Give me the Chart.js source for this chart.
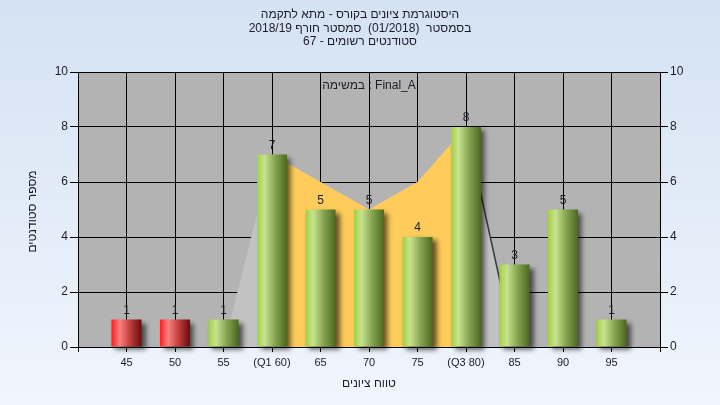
<!DOCTYPE html>
<html>
<head>
<meta charset="utf-8">
<script src="https://cdn.jsdelivr.net/npm/chart.js@4/dist/chart.umd.min.js"></script>
<style>
html,body{margin:0;padding:0;background:#e4eef9;}
canvas{display:block;}
</style>
</head>
<body>
<canvas id="c" width="720" height="405"></canvas>
<script>
// ---- data ----
const categories = ['45','50','55','(Q1 60)','65','70','75','(Q3 80)','85','90','95'];
const counts = [1,1,1,7,5,5,4,8,3,5,1];
const barGroups = ['fail','fail','pass','pass','pass','pass','pass','pass','pass','pass','pass'];
const curveValues = [null,null,0,7,6,5,6,8,0,null,null];
const q1Index = 3;
const q3Index = 7;
const yTicks = [0,2,4,6,8,10];
const titleLines = ['היסטוגרמת ציונים בקורס - מתא לתקמה','בסמסטר  (01/2018)  סמסטר חורף 2018/19','סטודנטים רשומים - 67'];
const taskLabel = 'במשימה : Final_A';
const xTitle = 'טווח ציונים';
const yTitle = 'מספר סטודנטים';

const BAR_FRAC = 0.62;
const FONT = '"Liberation Sans", Arial, sans-serif';

function pts(idxFrom, idxTo, arr) {
  const out = [];
  for (let i = idxFrom; i <= idxTo; i++) if (arr[i] !== null && arr[i] !== undefined) out.push({x: i, y: arr[i]});
  return out;
}
const barData = counts.map((v, i) => ({x: i, y: v}));
const grayArea = pts(0, categories.length - 1, curveValues);
const yellowArea = pts(q1Index, q3Index, curveValues);
const tailLine = pts(q3Index, q3Index + 1, curveValues);

function barGradient(c) {
  const idx = c.dataIndex;
  const fail = barGroups[idx] === 'fail';
  const solid = fail ? '#d03030' : '#8cb848';
  const chart = c.chart, xs = chart.scales && chart.scales.x;
  if (!xs || c.type !== 'data' || !Number.isInteger(idx)) return solid;
  const cx = xs.getPixelForValue(idx);
  const w = (xs.getPixelForValue(1) - xs.getPixelForValue(0)) * BAR_FRAC;
  if (!isFinite(cx) || !isFinite(w) || w <= 0) return solid;
  const g = chart.ctx.createLinearGradient(cx - w / 2, 0, cx + w / 2, 0);
  if (fail) {
    g.addColorStop(0, '#ff1c1c');
    g.addColorStop(0.27, '#ff8282');
    g.addColorStop(0.6, '#c24040');
    g.addColorStop(1, '#6c0a0a');
  } else {
    g.addColorStop(0, '#a2d044');
    g.addColorStop(0.25, '#c8e38e');
    g.addColorStop(0.6, '#86a552');
    g.addColorStop(1, '#4b6820');
  }
  return g;
}

const decor = {
  id: 'decor',
  beforeDraw(chart) {
    const ctx = chart.ctx, a = chart.chartArea;
    ctx.save();
    const g = ctx.createLinearGradient(0, 0, 0, chart.height);
    g.addColorStop(0, '#d4e2f3');
    g.addColorStop(1, '#f0f6fd');
    ctx.fillStyle = g;
    ctx.fillRect(0, 0, chart.width, chart.height);
    ctx.fillStyle = '#b3b3b3';
    ctx.fillRect(a.left, a.top, a.right - a.left, a.bottom - a.top);
    ctx.restore();
  },
  beforeDatasetDraw(chart, args) {
    if (args.meta.type === 'bar') {
      const ctx = chart.ctx;
      ctx.save();
      ctx.shadowColor = 'rgba(0,0,0,0.6)';
      ctx.shadowBlur = 5;
      ctx.shadowOffsetX = 4;
      ctx.shadowOffsetY = 3;
    }
  },
  afterDatasetDraw(chart, args) {
    if (args.meta.type === 'bar') chart.ctx.restore();
  },
  afterDatasetsDraw(chart) {
    const ctx = chart.ctx, a = chart.chartArea;
    ctx.save();
    ctx.fillStyle = '#1c1c28';
    ctx.font = '12px ' + FONT;
    ctx.textAlign = 'center';
    ctx.textBaseline = 'alphabetic';
    chart.data.datasets.forEach((ds, di) => {
      const meta = chart.getDatasetMeta(di);
      if (meta.type !== 'bar') return;
      meta.data.forEach((el, i) => {
        ctx.fillText(String(counts[i]), el.x, el.y - 6);
      });
    });
    ctx.direction = 'ltr';
    ctx.fillText(taskLabel, (a.left + a.right) / 2, a.top + 17);
    ctx.restore();
  },
  afterDraw(chart) {
    const ctx = chart.ctx, a = chart.chartArea;
    ctx.save();
    ctx.fillStyle = '#1c1c28';
    ctx.font = '12px ' + FONT;
    ctx.textAlign = 'center';
    ctx.textBaseline = 'middle';
    ctx.direction = 'rtl';
    titleLines.forEach((t, i) => ctx.fillText(t, chart.width / 2, 15 + i * 13.5));
    ctx.direction = 'ltr';
    ctx.fillText(xTitle, (a.left + a.right) / 2, 384);
    ctx.translate(33, (a.top + a.bottom) / 2 + 2);
    ctx.rotate(-Math.PI / 2);
    ctx.fillText(yTitle, 0, 0);
    ctx.restore();
  }
};

const tickFont = {family: FONT, size: 12};

new Chart(document.getElementById('c'), {
  type: 'bar',
  data: {
    datasets: [
      {type: 'bar', data: barData, backgroundColor: barGradient, borderWidth: 0,
       barPercentage: BAR_FRAC, categoryPercentage: 1, order: 0, clip: false},
      {type: 'line', data: tailLine, borderColor: '#3a3a3a', borderWidth: 1.5,
       pointRadius: 0, fill: false, tension: 0, order: 1},
      {type: 'line', data: yellowArea, borderWidth: 0, borderColor: 'rgba(0,0,0,0)',
       backgroundColor: '#ffcb5a', pointRadius: 0, fill: 'origin', tension: 0, order: 2},
      {type: 'line', data: grayArea, borderWidth: 0, borderColor: 'rgba(0,0,0,0)',
       backgroundColor: '#c2c2c2', pointRadius: 0, fill: 'origin', tension: 0, order: 3}
    ]
  },
  options: {
    responsive: false,
    animation: false,
    devicePixelRatio: 1,
    layout: {padding: {top: 72, left: 0, right: 0, bottom: 0}},
    plugins: {legend: {display: false}, tooltip: {enabled: false}, title: {display: false}},
    scales: {
      x: {
        type: 'linear', min: -1, max: categories.length, offset: false,
        afterFit: s => { s.height = 58; },
        grid: {color: '#000', lineWidth: 1, tickLength: 5, offset: false, drawOnChartArea: true},
        border: {color: '#000', width: 1},
        ticks: {stepSize: 1, autoSkip: false, maxRotation: 0, color: '#1c1c28', padding: 4,
                font: {family: FONT, size: 11},
                callback: v => (categories[v] !== undefined ? categories[v] : '')}
      },
      y: {
        position: 'left', min: 0, max: 10,
        afterFit: s => { s.width = 78; },
        afterBuildTicks: s => { s.ticks = yTicks.map(v => ({value: v})); },
        grid: {color: '#000', lineWidth: 1, tickLength: 8},
        border: {color: '#000', width: 1},
        ticks: {color: '#1c1c28', padding: 2, font: tickFont}
      },
      y2: {
        position: 'right', min: 0, max: 10,
        afterFit: s => { s.width = 60; },
        afterBuildTicks: s => { s.ticks = yTicks.map(v => ({value: v})); },
        grid: {color: '#000', lineWidth: 1, tickLength: 8, drawOnChartArea: false},
        border: {color: '#000', width: 1},
        ticks: {color: '#1c1c28', padding: 2, font: tickFont}
      }
    }
  },
  plugins: [decor]
});
</script>
</body>
</html>
